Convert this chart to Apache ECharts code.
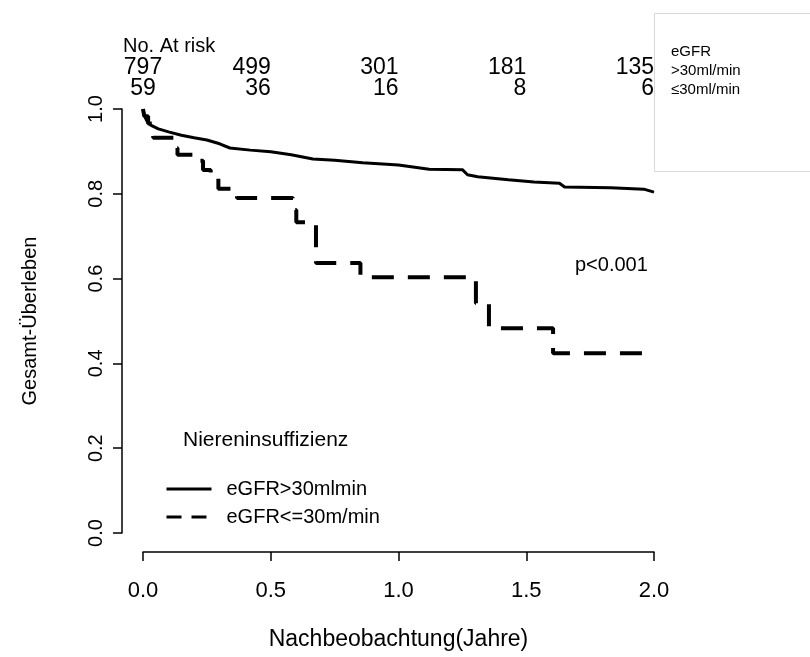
<!DOCTYPE html>
<html>
<head>
<meta charset="utf-8">
<script src="https://cdn.jsdelivr.net/npm/echarts@6/dist/echarts.min.js"></script>
<style>
  html, body { margin: 0; padding: 0; background: #fff; }
  #chart { width: 810px; height: 657px; }
</style>
</head>
<body>
<div id="chart"></div>
<script>
// Kaplan-Meier: Gesamt-Ueberleben nach eGFR
var FONT = "'Liberation Sans', Arial, sans-serif";

// [Jahre, Ueberleben]
var survHigh = [
    [0, 1.0], [0.005, 0.985], [0.015, 0.972], [0.03, 0.962], [0.06, 0.953],
    [0.1, 0.946], [0.15, 0.938], [0.2, 0.932], [0.25, 0.927], [0.3, 0.918],
    [0.34, 0.908], [0.42, 0.903], [0.5, 0.899], [0.58, 0.892], [0.665, 0.882],
    [0.75, 0.879], [0.86, 0.873], [1.0, 0.868], [1.12, 0.858], [1.25, 0.857],
    [1.27, 0.845], [1.31, 0.840], [1.43, 0.833], [1.53, 0.828], [1.63, 0.825],
    [1.65, 0.816], [1.83, 0.814], [1.96, 0.811], [2.0, 0.804]
];
var survLow = [
    [0, 1.0], [0.005, 0.983], [0.02, 0.966], [0.04, 0.932], [0.12, 0.908],
    [0.135, 0.892], [0.2, 0.878], [0.235, 0.856], [0.265, 0.837], [0.295, 0.812],
    [0.368, 0.790], [0.587, 0.762], [0.6, 0.733], [0.677, 0.637], [0.851, 0.603],
    [1.303, 0.542], [1.354, 0.483], [1.605, 0.424], [2.0, 0.424]
];

var seriesNames = ['eGFR>30mlmin', 'eGFR<=30m/min'];
var riskTimes = [0, 0.5, 1.0, 1.5, 2.0];
var riskHigh = [797, 499, 301, 181, 135];
var riskLow = [59, 36, 16, 8, 6];
var boxLines = ['eGFR', '>30ml/min', '≤30ml/min'];

var myChart = echarts.init(document.getElementById('chart'));

var option = {
    animation: false,
    backgroundColor: '#fff',
    textStyle: { fontFamily: FONT },
    grid: { left: 143, right: 156, top: 109, bottom: 124 },
    xAxis: {
        type: 'value', min: 0, max: 2, interval: 0.5,
        offset: 19,
        name: 'Nachbeobachtung(Jahre)', nameLocation: 'middle', nameGap: 76,
        nameTextStyle: { fontSize: 23, color: '#000', fontFamily: FONT },
        axisLine: { show: true, onZero: false, lineStyle: { color: '#000', width: 1.5 } },
        axisTick: { show: true, length: 9, lineStyle: { color: '#000', width: 1.5 } },
        axisLabel: { fontSize: 22, color: '#000', margin: 28, fontFamily: FONT,
            formatter: function (v) { return v.toFixed(1); } },
        splitLine: { show: false }
    },
    yAxis: {
        type: 'value', min: 0, max: 1, interval: 0.2,
        offset: 21,
        name: 'Gesamt-Überleben', nameLocation: 'middle', nameGap: 82,
        nameTextStyle: { fontSize: 20, color: '#000', fontFamily: FONT },
        axisLine: { show: true, onZero: false, lineStyle: { color: '#000', width: 1.5 } },
        axisTick: { show: true, length: 9, lineStyle: { color: '#000', width: 1.5 } },
        axisLabel: { fontSize: 20, color: '#000', margin: 16, rotate: 90, fontFamily: FONT,
            formatter: function (v) { return v.toFixed(1); } },
        splitLine: { show: false }
    },
    legend: {
        orient: 'vertical', left: 160, top: 474,
        itemWidth: 45, itemHeight: 14, itemGap: 8,
        itemStyle: { opacity: 0 },
        lineStyle: { width: 3 },
        textStyle: { fontSize: 20, color: '#000', fontFamily: FONT, padding: [0, 0, 0, 10] },
        data: [
            { name: seriesNames[0], lineStyle: { width: 3, type: 'solid' } },
            { name: seriesNames[1], lineStyle: { width: 3, type: [15, 10] } }
        ]
    },
    series: [
        {
            name: seriesNames[0], type: 'line', data: survHigh,
            showSymbol: false, symbol: 'none',
            lineStyle: { color: '#000', width: 3 },
            itemStyle: { color: '#000' }
        },
        {
            name: seriesNames[1], type: 'line', data: survLow, step: 'end',
            showSymbol: false, symbol: 'none',
            lineStyle: { color: '#000', width: 4, type: [22, 14] },
            itemStyle: { color: '#000' }
        }
    ]
};
myChart.setOption(option);

// Texte: Patienten unter Risiko, Kasten, Legendentitel, p-Wert
var graphics = [];
graphics.push({ type: 'text', x: 123, y: 46,
    style: { text: 'No. At risk', font: '20px ' + FONT, fill: '#000', verticalAlign: 'middle' } });
riskTimes.forEach(function (t, i) {
    var px = myChart.convertToPixel({ xAxisIndex: 0 }, t);
    var align = i === 0 ? 'center' : 'right';
    graphics.push({ type: 'text', x: px, y: 68,
        style: { text: String(riskHigh[i]), font: '23px ' + FONT, fill: '#000', align: align, verticalAlign: 'middle' } });
    graphics.push({ type: 'text', x: px, y: 89,
        style: { text: String(riskLow[i]), font: '23px ' + FONT, fill: '#000', align: align, verticalAlign: 'middle' } });
});
graphics.push({ type: 'rect', shape: { x: 654.5, y: 13.5, width: 170, height: 158 },
    style: { fill: '#fff', stroke: '#d8d8d8', lineWidth: 1 }, z: -1 });
boxLines.forEach(function (s, i) {
    graphics.push({ type: 'text', x: 671, y: 52 + i * 19,
        style: { text: s, font: '15px ' + FONT, fill: '#000', verticalAlign: 'middle' } });
});
graphics.push({ type: 'text', x: 183, y: 440,
    style: { text: 'Niereninsuffizienz', font: '21px ' + FONT, fill: '#000', verticalAlign: 'middle' } });
graphics.push({ type: 'text', x: 575, y: 265,
    style: { text: 'p<0.001', font: '20px ' + FONT, fill: '#000', verticalAlign: 'middle' } });

myChart.setOption({ graphic: graphics });
</script>
</body>
</html>
